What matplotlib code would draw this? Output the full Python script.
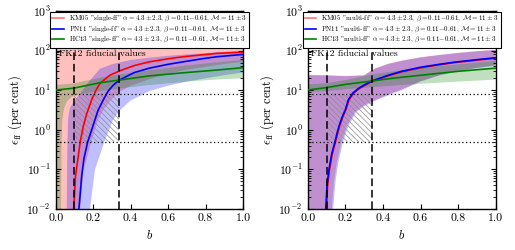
import matplotlib
matplotlib.use('Agg')
import matplotlib.pyplot as plt

plt.rcParams['font.family'] = 'serif'
plt.rcParams['font.serif'] = ['cmr10', 'DejaVu Serif']
plt.rcParams['mathtext.fontset'] = 'cm'
plt.rcParams['axes.formatter.use_mathtext'] = True
plt.rcParams['axes.unicode_minus'] = False
plt.rcParams['hatch.linewidth'] = 0.5

# ---------------- data ----------------
fid_b = [0.1, 0.34]
fid_eps = [0.5, 8.0]
panel_kind = ['single-ff', 'multi-ff']
model_names = ['KM05', 'PN11', 'HC13']
model_colors = ['r', 'b', 'g']
param_text = r'$\alpha=4.3\pm2.3$, $\beta=0.11{-}0.61$, $\mathcal{M}=11\pm3$'
fid_label = 'FK12 fiducial values'

# left panel (single-ff) central curves
km_s_b = [0.096, 0.106, 0.119, 0.131, 0.147, 0.165, 0.192, 0.215, 0.237, 0.29, 0.343, 0.42, 0.5, 0.6, 0.68, 0.78, 0.86, 1.0]
km_s_e = [0.01, 0.07, 0.19, 0.5, 1.2, 2.5, 5.7, 10, 15, 24, 31, 42, 52, 62, 70, 78, 85, 91]
pn_s_b = [0.124, 0.139, 0.151, 0.171, 0.2, 0.225, 0.254, 0.28, 0.308, 0.34, 0.42, 0.5, 0.6, 0.68, 0.78, 0.86, 1.0]
pn_s_e = [0.01, 0.07, 0.19, 0.5, 1.3, 3.0, 5.7, 9.5, 13.5, 18, 28, 36, 45, 52, 62, 70, 80]
hc_s_b = [0.0, 0.094, 0.237, 0.34, 0.5, 0.68, 0.85, 1.0]
hc_s_e = [10.1, 11.2, 15.5, 18, 23, 27.5, 32, 37]

# left panel bands (upper edge / lower edge)
km_s_ub = [0.0, 1.0]
km_s_ue = [190, 190]
km_s_lb = [0.0, 0.125, 0.13, 0.15, 0.19, 0.226, 0.26, 0.3, 0.34, 0.4, 0.5, 0.6, 0.7, 0.8, 0.9, 1.0]
km_s_le = [1e-3, 1e-3, 0.01, 0.1, 0.5, 1.8, 3.5, 6, 9, 13, 19, 26, 33, 39, 46, 52]
pn_s_ub = [0.055, 0.059, 0.062, 0.066, 0.075, 0.1, 0.13, 0.17, 0.237, 0.3, 0.34, 0.4, 0.5, 0.6, 0.7, 0.8, 0.9, 1.0]
pn_s_ue = [1e-3, 0.01, 0.3, 1.8, 3.5, 5.5, 8, 15, 35, 45, 50, 58, 66, 74, 80, 86, 93, 100]
pn_s_lb = [0.055, 0.178, 0.183, 0.21, 0.26, 0.306, 0.34, 0.4, 0.5, 0.6, 0.7, 0.8, 0.9, 1.0]
pn_s_le = [1e-3, 1e-3, 0.01, 0.1, 0.5, 1.8, 3, 5.5, 9.5, 13, 16.5, 20, 24, 28]
hc_s_ub = [0.0, 0.1, 0.2, 0.34, 0.5, 0.7, 0.85, 1.0]
hc_s_ue = [13.5, 15, 19, 25, 32, 42, 50, 58]
hc_s_lb = [0.0, 0.024, 0.028, 0.031, 0.035, 0.045, 0.06, 0.085, 0.12, 0.2, 0.34, 0.5, 0.7, 0.85, 1.0]
hc_s_le = [1e-3, 1e-3, 0.01, 0.3, 1.8, 3.5, 5.2, 6.8, 7.8, 9, 11, 13.5, 16.5, 18.5, 20]

# right panel (multi-ff) central curves
pn_m_b = [0.096, 0.103, 0.113, 0.128, 0.145, 0.157, 0.168, 0.185, 0.2, 0.216, 0.24, 0.269, 0.3, 0.34, 0.43, 0.5, 0.6, 0.7, 0.78, 0.9, 1.0]
pn_m_e = [0.01, 0.04, 0.1, 0.25, 0.5, 0.85, 1.3, 2.2, 3.2, 5.7, 8.5, 11, 13.5, 17, 24, 30, 38, 45, 51, 59, 66]
km_m_b = [0.099, 0.106, 0.116, 0.131, 0.148, 0.16, 0.171, 0.188, 0.203, 0.219, 0.243, 0.272, 0.303, 0.343, 0.433, 0.503, 0.603, 0.703, 0.783, 0.903, 1.0]
km_m_e = [0.01, 0.04, 0.1, 0.25, 0.5, 0.85, 1.3, 2.2, 3.2, 5.6, 8.3, 10.8, 13.2, 16.6, 23.5, 29.3, 37, 44, 50, 57.5, 64.5]
hc_m_b = [0.0, 0.092, 0.2, 0.34, 0.45, 0.606, 0.8, 1.0]
hc_m_e = [10.1, 11.5, 14, 17, 20, 24, 30, 36]

# right panel bands
km_m_ub = [0.0, 0.1, 0.2, 0.3, 0.33, 0.36, 0.43, 0.5, 0.6, 0.7, 0.8, 0.9, 1.0]
km_m_ue = [24.5, 24, 23, 24, 30, 36, 47, 56, 68, 78, 88, 97, 105]
km_m_lb = [0.0, 0.123, 0.128, 0.14, 0.155, 0.18, 0.21, 0.25, 0.3, 0.34, 0.42, 0.5, 0.6, 0.7, 0.8, 0.9, 1.0]
km_m_le = [1e-3, 1e-3, 0.01, 0.05, 0.15, 0.5, 1.3, 2.8, 4.2, 5.2, 7.5, 10.5, 17, 24, 31, 37, 43]
pn_m_ub = [0.0, 0.1, 0.2, 0.3, 0.33, 0.36, 0.43, 0.5, 0.6, 0.7, 0.8, 0.9, 1.0]
pn_m_ue = [24, 23.5, 22.5, 23.5, 29, 35, 46, 55, 67, 77, 87, 96, 104]
pn_m_lb = [0.0, 0.13, 0.135, 0.148, 0.163, 0.188, 0.218, 0.258, 0.31, 0.35, 0.43, 0.5, 0.6, 0.7, 0.8, 0.9, 1.0]
pn_m_le = [1e-3, 1e-3, 0.01, 0.05, 0.15, 0.5, 1.3, 2.8, 4.2, 5.2, 7.5, 10, 16.5, 23.5, 30, 36, 42]
hc_m_ub = [0.0, 0.1, 0.2, 0.34, 0.5, 0.6, 0.8, 1.0]
hc_m_ue = [14, 15, 18, 25, 32, 36, 45, 55]
hc_m_lb = [0.0, 0.1, 0.2, 0.34, 0.5, 0.6, 0.8, 1.0]
hc_m_le = [9, 9.5, 10.5, 12, 13.5, 14.5, 16.5, 18.5]

panels = [
    dict(curves=[(km_s_b, km_s_e), (pn_s_b, pn_s_e), (hc_s_b, hc_s_e)],
         bands=[(km_s_ub, km_s_ue, km_s_lb, km_s_le),
                (pn_s_ub, pn_s_ue, pn_s_lb, pn_s_le),
                (hc_s_ub, hc_s_ue, hc_s_lb, hc_s_le)]),
    dict(curves=[(km_m_b, km_m_e), (pn_m_b, pn_m_e), (hc_m_b, hc_m_e)],
         bands=[(km_m_ub, km_m_ue, km_m_lb, km_m_le),
                (pn_m_ub, pn_m_ue, pn_m_lb, pn_m_le),
                (hc_m_ub, hc_m_ue, hc_m_lb, hc_m_le)]),
]

W, H = 515, 250
fig = plt.figure(figsize=(W / 100, H / 100), dpi=100)
axes_px = [(55.7, 243.0), (307.7, 495.7)]
ytop, ybot = 11.0, 209.0

for i, (px, panel) in enumerate(zip(axes_px, panels)):
    ax = fig.add_axes([px[0] / W, 1 - ybot / H, (px[1] - px[0]) / W, (ybot - ytop) / H])
    ax.set_yscale('log')
    ax.set_xlim(0, 1)
    ax.set_ylim(1e-2, 1e3)

    # bands
    for (ub, ue, lb, le), c in zip(panel['bands'], model_colors):
        xs = list(ub) + list(lb)[::-1]
        ys = list(ue) + list(le)[::-1]
        ax.fill(xs, ys, color=c, alpha=0.25, lw=0, zorder=1)

    # hatched fiducial region
    ax.fill_between(fid_b, [fid_eps[0]] * 2, [fid_eps[1]] * 2, facecolor='none',
                    edgecolor='0.55', hatch='\\\\\\\\\\\\', lw=0, zorder=1.5)

    # curves
    handles = []
    for (bb, ee), c, name in zip(panel['curves'], model_colors, model_names):
        h, = ax.plot(bb, ee, color=c, lw=1.2, zorder=3,
                     label=f'{name} "{panel_kind[i]}" ' + param_text)
        handles.append(h)

    # fiducial lines
    for bv in fid_b:
        ax.axvline(bv, ymin=0, ymax=0.8, color='k', lw=1.1, ls=(0, (5, 2.5)), zorder=4)
    for ev in fid_eps:
        ax.axhline(ev, color='k', lw=0.9, ls=(0, (1, 2)), zorder=4)

    ax.text(0.02, 84, fid_label, fontsize=7, va='center', ha='left', zorder=5)

    leg = ax.legend(handles=handles, loc='upper center', fontsize=5.0, handlelength=1.7,
                    handletextpad=0.7, labelspacing=0.08, borderpad=0.3,
                    borderaxespad=0.1, fancybox=False, framealpha=1)
    leg.get_frame().set_edgecolor('k')
    leg.get_frame().set_linewidth(0.8)
    leg.set_zorder(6)
    leg.legend_handles[0].set_alpha(0.55)

    ax.set_xticks([0.0, 0.2, 0.4, 0.6, 0.8, 1.0])
    ax.set_xticklabels(['0.0', '0.2', '0.4', '0.6', '0.8', '1.0'])
    ax.tick_params(which='both', direction='in', top=True, right=True, labelsize=8.5)
    ax.tick_params(which='major', length=3.5, width=0.8)
    ax.tick_params(which='minor', length=2, width=0.6)
    ax.set_xlabel(r'$b$', fontsize=9, labelpad=4)
    ax.set_ylabel(r'$\epsilon_{\rm ff}$ (per cent)', fontsize=9, labelpad=2)
    for s in ax.spines.values():
        s.set_linewidth(1.0)

fig.savefig('out.png', dpi=100)
